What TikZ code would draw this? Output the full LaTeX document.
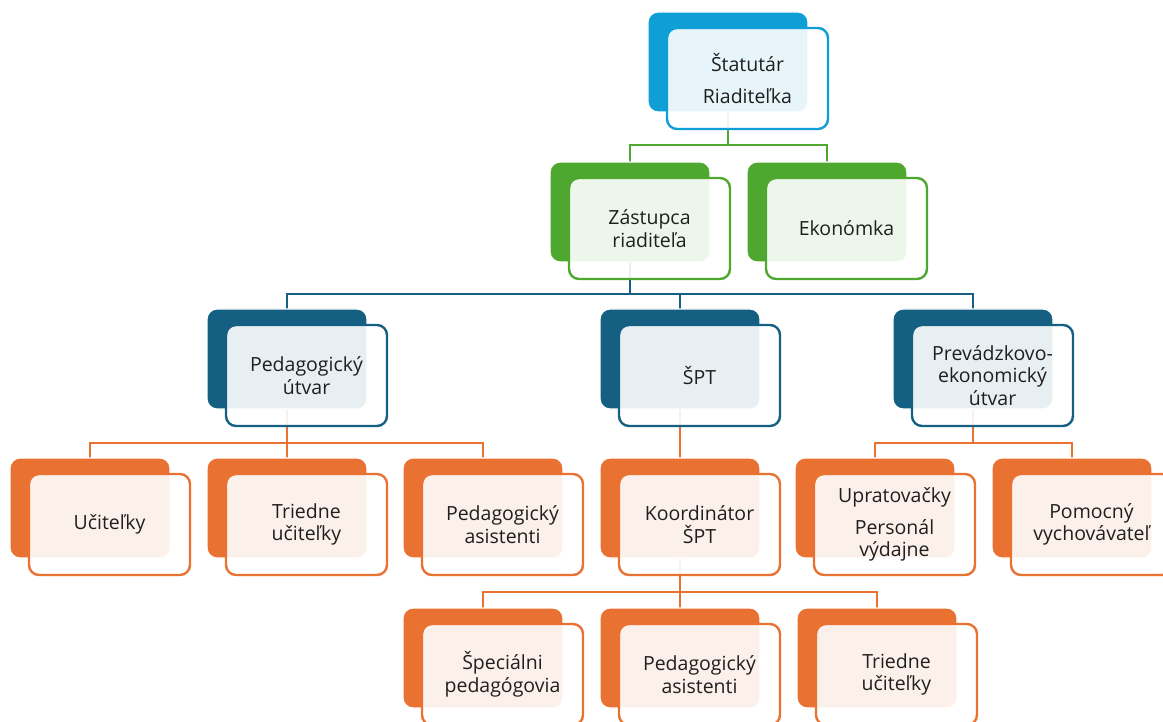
\documentclass[tikz,border=0pt]{standalone}
\usepackage{fontspec}
\setmainfont{Open Sans}
\usetikzlibrary{calc,backgrounds}
\definecolor{cblue}{HTML}{0F9ED5}
\definecolor{cgreen}{HTML}{4EA72E}
\definecolor{cdark}{HTML}{156082}
\definecolor{corange}{HTML}{E97132}
\definecolor{ctext}{HTML}{1F1F1F}
\tikzset{
 backbox/.style={draw=white, line width=1.2pt, fill=#1, rounded corners=10pt,
   minimum width=160pt, minimum height=100pt, inner sep=0pt, outer sep=0pt},
 frontbox/.style={draw=#1, line width=2.4pt, fill=white, fill opacity=0.9, text opacity=1,
   rounded corners=10pt, minimum width=161pt, minimum height=101pt, align=center,
   text=ctext, font=\fontsize{19.5}{22.5}\selectfont, inner sep=1pt},
 link/.style={draw=#1, line width=2.6pt},
}
\newcommand\orgbox[5]{%
  \node[backbox=#4] (#1) at (#2,#3) {};
  \node[frontbox=#4] (#1f) at ($(#1)+(19.5,16.5)$) {#5};}
\begin{document}
\begin{tikzpicture}[x=1pt,y=-1pt]
\useasboundingbox (0,0) rectangle (1163,722);
% row 1
\orgbox{s}{728}{62}{cblue}{Štatutár\\[9pt]Riaditeľka}
% row 2
\orgbox{z}{630}{212}{cgreen}{Zástupca\\riaditeľa}
\orgbox{e}{827}{212}{cgreen}{Ekonómka}
% row 3
\orgbox{p}{287}{359}{cdark}{Pedagogický\\útvar}
\orgbox{spt}{680}{359}{cdark}{ŠPT}
\orgbox{pe}{973}{359}{cdark}{Prevádzkovo-\\ekonomický\\útvar}
% row 4
\orgbox{u}{90}{508}{corange}{Učiteľky}
\orgbox{t}{287}{508}{corange}{Triedne\\učiteľky}
\orgbox{pa}{483}{508}{corange}{Pedagogický\\asistenti}
\orgbox{k}{680}{508}{corange}{Koordinátor\\ŠPT}
\orgbox{up}{875}{508}{corange}{Upratovačky\\[9pt]Personál\\výdajne}
\orgbox{po}{1072}{508}{corange}{Pomocný\\vychovávateľ}
% row 5
\orgbox{sp}{483}{658}{corange}{Špeciálni\\pedagógovia}
\orgbox{pb}{680}{658}{corange}{Pedagogický\\asistenti}
\orgbox{tb}{877}{658}{corange}{Triedne\\učiteľky}
% connectors
\coordinate (h1) at (0,145);
\coordinate (h2) at (0,294);
\coordinate (h3) at (0,443);
\coordinate (h4) at (0,592);
\begin{pgfonlayer}{background}
\draw[link=cgreen] (s.center) -- (s.center |- h1);
\draw[link=cgreen] (z.center) |- (s.center |- h1) -| (e.center);
\draw[link=cdark] (z.center) -- (z.center |- h2);
\draw[link=cdark] (p.center) |- (z.center |- h2) -| (pe.center);
\draw[link=cdark] (spt.center) -- (spt.center |- h2);
\draw[link=corange] (p.center) -- (p.center |- h3);
\draw[link=corange] (u.center) |- (p.center |- h3) -| (pa.center);
\draw[link=corange] (t.center) -- (t.center |- h3);
\draw[link=corange] (spt.center) -- (k.center);
\draw[link=corange] (pe.center) -- (pe.center |- h3);
\draw[link=corange] (up.center) |- (pe.center |- h3) -| (po.center);
\draw[link=corange] (k.center) -- (k.center |- h4);
\draw[link=corange] (sp.center) |- (k.center |- h4) -| (tb.center);
\draw[link=corange] (pb.center) -- (pb.center |- h4);
\end{pgfonlayer}
\end{tikzpicture}
\end{document}
